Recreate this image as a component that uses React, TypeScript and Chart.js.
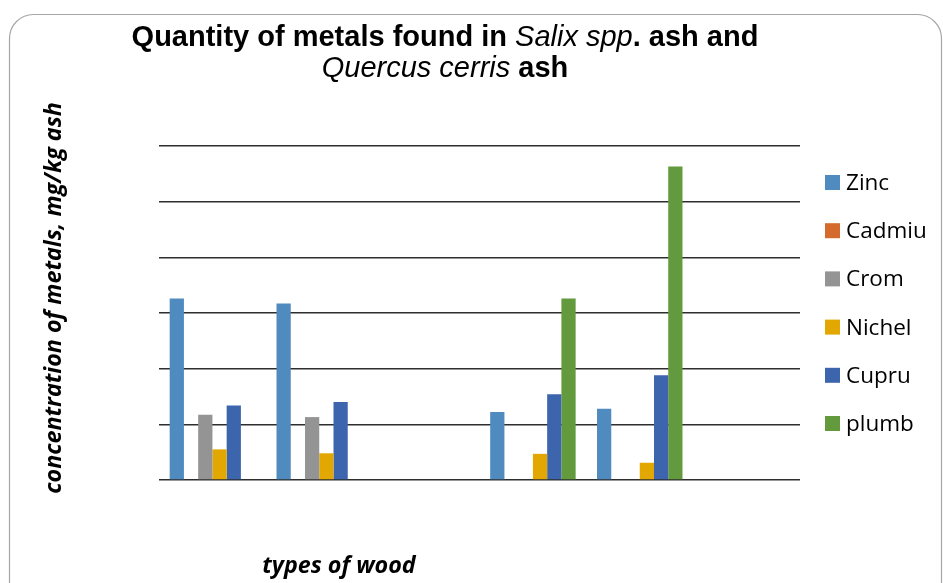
import React, { useEffect, useRef } from "react";
import { Chart, registerables } from "chart.js";
Chart.register(...registerables);

const categories = ["Salix spp. 1", "Salix spp. 2", "", "Quercus cerris 1", "Quercus cerris 2", " "];
const zinc = [3.26, 3.17, null, 1.22, 1.28, null];
const cadmiu = [0, 0, null, 0, 0, null];
const crom = [1.17, 1.13, null, 0, 0, null];
const nichel = [0.55, 0.48, null, 0.47, 0.31, null];
const cupru = [1.34, 1.4, null, 1.54, 1.88, null];
const plumb = [0, 0, null, 3.26, 5.63, null];
const seriesNames = ["Zinc", "Cadmiu", "Crom", "Nichel", "Cupru", "plumb"];
const seriesColors = ["#4f8bbe", "#d46b2c", "#949494", "#e2a700", "#3d65ae", "#639a3d"];
const yTicks = [0, 1, 2, 3, 4, 5, 6];

const titleLine1 = [
  { t: "Quantity of metals found in ", f: "bold" },
  { t: "Salix spp", f: "italic" },
  { t: ". ash and", f: "bold" },
];
const titleLine2 = [
  { t: "Quercus cerris", f: "italic" },
  { t: " ash", f: "bold" },
];
const yTitle = "concentration of metals, mg/kg ash";
const xTitle = "types of wood";

const decor = {
  id: "decor",
  beforeDraw(chart: any) {
    const ctx = chart.ctx;
    ctx.save();
    ctx.strokeStyle = "#a6a6a6";
    ctx.lineWidth = 1.2;
    const x = 9.5, y = 14.5, w = 932, h = 600, r = 24;
    ctx.beginPath();
    ctx.moveTo(x + r, y);
    ctx.lineTo(x + w - r, y);
    ctx.arcTo(x + w, y, x + w, y + r, r);
    ctx.lineTo(x + w, y + h);
    ctx.lineTo(x, y + h);
    ctx.lineTo(x, y + r);
    ctx.arcTo(x, y, x + r, y, r);
    ctx.stroke();
    ctx.restore();
  },
  afterDraw(chart: any) {
    const ctx = chart.ctx;
    ctx.save();
    ctx.fillStyle = "#000";
    ctx.textBaseline = "alphabetic";
    ctx.textAlign = "left";
    const tf = (f: string) => `${f} 29px "Liberation Sans", Arial, sans-serif`;
    const drawLine = (segs: any[], cx: number, by: number) => {
      let tot = 0;
      segs.forEach((s) => { ctx.font = tf(s.f); tot += ctx.measureText(s.t).width; });
      let sx = cx - tot / 2;
      segs.forEach((s) => { ctx.font = tf(s.f); ctx.fillText(s.t, sx, by); sx += ctx.measureText(s.t).width; });
    };
    drawLine(titleLine1, 445, 46);
    drawLine(titleLine2, 445, 77);

    // axis titles
    const axFont = `italic bold 23.3px "Open Sans", sans-serif`;
    ctx.font = axFont;
    ctx.save();
    ctx.translate(61, 298);
    ctx.rotate(-Math.PI / 2);
    ctx.textAlign = "center";
    ctx.fillText(yTitle, 0, 0);
    ctx.restore();
    ctx.font = axFont;
    ctx.textAlign = "center";
    ctx.fillText(xTitle, 339, 573);

    // legend
    const lf = `22.5px "Open Sans", sans-serif`;
    chart.data.datasets.forEach((ds: any, i: number) => {
      const cy = 182.5 + i * 48.2;
      ctx.fillStyle = ds.backgroundColor;
      ctx.fillRect(825, cy - 7.5, 15, 15);
      ctx.fillStyle = "#000";
      ctx.font = lf;
      ctx.textAlign = "left";
      ctx.fillText(ds.label, 846, cy + 7.5);
    });
    ctx.restore();
  },
};

export default function App() {
  const ref = useRef<HTMLCanvasElement>(null);
  useEffect(() => {
    const values = [zinc, cadmiu, crom, nichel, cupru, plumb];
    const chart = new Chart(ref.current!, {
      type: "bar",
      data: {
        labels: categories,
        datasets: seriesNames.map((n, i) => ({
          label: n,
          data: values[i],
          backgroundColor: seriesColors[i],
          borderWidth: 0,
          categoryPercentage: 0.8,
          barPercentage: 1.0,
        })),
      },
      options: {
        responsive: false,
        animation: false,
        devicePixelRatio: 1,
        layout: { padding: { left: 159, right: 143, top: 146, bottom: 103 } },
        plugins: { legend: { display: false }, title: { display: false }, tooltip: { enabled: false } },
        scales: {
          x: {
            grid: { display: false, drawTicks: false },
            border: { display: false },
            ticks: { display: false },
          },
          y: {
            min: 0,
            max: 6,
            afterBuildTicks: (axis: any) => { axis.ticks = yTicks.map((v) => ({ value: v })); },
            grid: { color: "#2e2e2e", lineWidth: 1.5, drawTicks: false },
            border: { display: false },
            ticks: { display: false },
          },
        },
      },
      plugins: [decor],
    } as any);
    return () => chart.destroy();
  }, []);
  return (
    <div style={{ position: "fixed", left: 0, top: 0, width: 943, height: 583, overflow: "hidden", background: "#fff" }}>
      <canvas ref={ref} width={943} height={583} style={{ display: "block" }} />
    </div>
  );
}
